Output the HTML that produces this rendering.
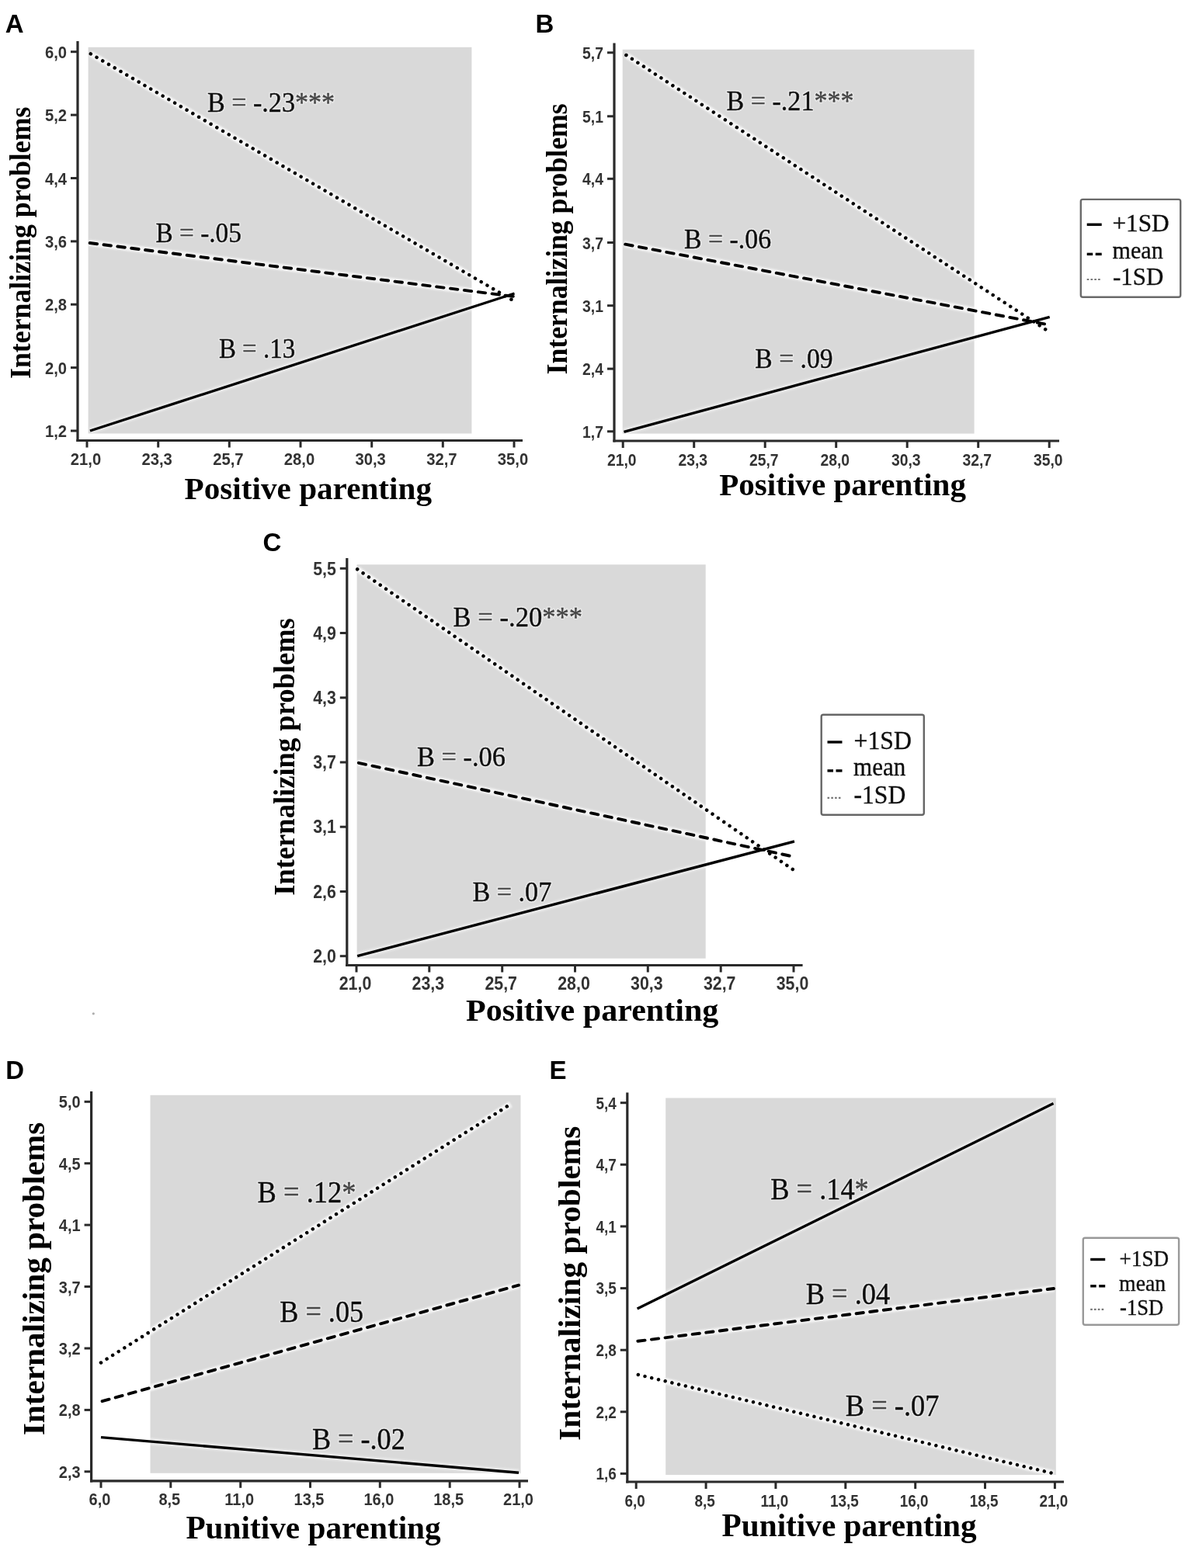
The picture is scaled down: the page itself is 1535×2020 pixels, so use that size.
<!DOCTYPE html>
<html><head><meta charset="utf-8"><title>Figure</title>
<style>html,body{margin:0;padding:0;background:#fff;width:1535px;height:2020px;overflow:hidden}svg{display:block}</style>
</head><body>
<svg width="1535" height="2020" viewBox="0 0 1535 2020">
<defs><filter id="halo" x="-5%" y="-5%" width="110%" height="110%"><feGaussianBlur stdDeviation="1.3"/></filter><filter id="soft" x="0" y="0" width="100%" height="100%" filterUnits="userSpaceOnUse"><feGaussianBlur stdDeviation="0.55"/></filter></defs>
<rect width="1535" height="2020" fill="#fff"/>
<circle cx="120.3" cy="1305.8" r="1.6" fill="#999" opacity="0.8"/>
<g filter="url(#soft)">
<rect x="113.6" y="60.8" width="493.8" height="497.7" fill="#d9d9d9"/>
<line x1="100.0" y1="53.0" x2="100.0" y2="569.1" stroke="#2a2a2a" stroke-width="3.2" />
<line x1="98.4" y1="567.5" x2="673.0" y2="567.5" stroke="#2a2a2a" stroke-width="3.2" />
<line x1="91.0" y1="66.7" x2="100.0" y2="66.7" stroke="#2a2a2a" stroke-width="3" />
<text transform="translate(86.00 74.75) scale(0.898 1)" font-family="'Liberation Sans', Arial, sans-serif" font-size="22.5" font-weight="bold" fill="#333" text-anchor="end">6,0</text>
<line x1="91.0" y1="148.1" x2="100.0" y2="148.1" stroke="#2a2a2a" stroke-width="3" />
<text transform="translate(86.00 156.14) scale(0.898 1)" font-family="'Liberation Sans', Arial, sans-serif" font-size="22.5" font-weight="bold" fill="#333" text-anchor="end">5,2</text>
<line x1="91.0" y1="229.5" x2="100.0" y2="229.5" stroke="#2a2a2a" stroke-width="3" />
<text transform="translate(86.00 237.52) scale(0.898 1)" font-family="'Liberation Sans', Arial, sans-serif" font-size="22.5" font-weight="bold" fill="#333" text-anchor="end">4,4</text>
<line x1="91.0" y1="310.9" x2="100.0" y2="310.9" stroke="#2a2a2a" stroke-width="3" />
<text transform="translate(86.00 318.91) scale(0.898 1)" font-family="'Liberation Sans', Arial, sans-serif" font-size="22.5" font-weight="bold" fill="#333" text-anchor="end">3,6</text>
<line x1="91.0" y1="392.2" x2="100.0" y2="392.2" stroke="#2a2a2a" stroke-width="3" />
<text transform="translate(86.00 400.29) scale(0.898 1)" font-family="'Liberation Sans', Arial, sans-serif" font-size="22.5" font-weight="bold" fill="#333" text-anchor="end">2,8</text>
<line x1="91.0" y1="473.6" x2="100.0" y2="473.6" stroke="#2a2a2a" stroke-width="3" />
<text transform="translate(86.00 481.67) scale(0.898 1)" font-family="'Liberation Sans', Arial, sans-serif" font-size="22.5" font-weight="bold" fill="#333" text-anchor="end">2,0</text>
<line x1="91.0" y1="555.0" x2="100.0" y2="555.0" stroke="#2a2a2a" stroke-width="3" />
<text transform="translate(86.00 563.05) scale(0.898 1)" font-family="'Liberation Sans', Arial, sans-serif" font-size="22.5" font-weight="bold" fill="#333" text-anchor="end">1,2</text>
<line x1="112.0" y1="567.5" x2="112.0" y2="576.5" stroke="#2a2a2a" stroke-width="3" />
<text transform="translate(110.50 599.00) scale(0.898 1)" font-family="'Liberation Sans', Arial, sans-serif" font-size="22.5" font-weight="bold" fill="#333" text-anchor="middle">21,0</text>
<line x1="203.7" y1="567.5" x2="203.7" y2="576.5" stroke="#2a2a2a" stroke-width="3" />
<text transform="translate(202.17 599.00) scale(0.898 1)" font-family="'Liberation Sans', Arial, sans-serif" font-size="22.5" font-weight="bold" fill="#333" text-anchor="middle">23,3</text>
<line x1="295.3" y1="567.5" x2="295.3" y2="576.5" stroke="#2a2a2a" stroke-width="3" />
<text transform="translate(293.83 599.00) scale(0.898 1)" font-family="'Liberation Sans', Arial, sans-serif" font-size="22.5" font-weight="bold" fill="#333" text-anchor="middle">25,7</text>
<line x1="387.0" y1="567.5" x2="387.0" y2="576.5" stroke="#2a2a2a" stroke-width="3" />
<text transform="translate(385.50 599.00) scale(0.898 1)" font-family="'Liberation Sans', Arial, sans-serif" font-size="22.5" font-weight="bold" fill="#333" text-anchor="middle">28,0</text>
<line x1="478.7" y1="567.5" x2="478.7" y2="576.5" stroke="#2a2a2a" stroke-width="3" />
<text transform="translate(477.17 599.00) scale(0.898 1)" font-family="'Liberation Sans', Arial, sans-serif" font-size="22.5" font-weight="bold" fill="#333" text-anchor="middle">30,3</text>
<line x1="570.3" y1="567.5" x2="570.3" y2="576.5" stroke="#2a2a2a" stroke-width="3" />
<text transform="translate(568.83 599.00) scale(0.898 1)" font-family="'Liberation Sans', Arial, sans-serif" font-size="22.5" font-weight="bold" fill="#333" text-anchor="middle">32,7</text>
<line x1="662.0" y1="567.5" x2="662.0" y2="576.5" stroke="#2a2a2a" stroke-width="3" />
<text transform="translate(660.50 599.00) scale(0.898 1)" font-family="'Liberation Sans', Arial, sans-serif" font-size="22.5" font-weight="bold" fill="#333" text-anchor="middle">35,0</text>
<g filter="url(#halo)">
<line x1="116.8" y1="69.4" x2="661.2" y2="387.4" stroke="#fff" stroke-width="8" stroke-opacity="0.8" stroke-linecap="butt"/>
<line x1="114.0" y1="312.8" x2="662.0" y2="382.0" stroke="#fff" stroke-width="8.5" stroke-opacity="0.7" stroke-linecap="butt"/>
<line x1="116.0" y1="555.0" x2="662.5" y2="378.0" stroke="#fff" stroke-width="9" stroke-opacity="0.45" stroke-linecap="butt"/>
</g>
<line x1="116.8" y1="69.4" x2="661.2" y2="387.4" stroke="#000" stroke-width="4.5" stroke-dasharray="0.01 8.95" stroke-linecap="round"/>
<line x1="114.0" y1="312.8" x2="662.0" y2="382.0" stroke="#000" stroke-width="3.9" stroke-dasharray="9.50 8.50" stroke-dashoffset="-1.65" stroke-linecap="round"/>
<line x1="116.0" y1="555.0" x2="662.5" y2="378.0" stroke="#000" stroke-width="3.4" stroke-linecap="butt"/>
<text x="266.90" y="143.6" font-family="'Liberation Serif', 'Times New Roman', serif" font-size="35.7" textLength="164.21" lengthAdjust="spacingAndGlyphs" fill="none" stroke="#fff" stroke-opacity="0.35" stroke-width="4" stroke-linejoin="round">B = -.23***</text>
<text x="266.90" y="143.6" font-family="'Liberation Serif', 'Times New Roman', serif" font-size="35.7" textLength="164.21" lengthAdjust="spacingAndGlyphs" fill="#111" stroke="#111" stroke-width="0.4">B <tspan fill="#4a4a4a" stroke="#4a4a4a">=</tspan> -.23<tspan fill="#444" stroke="#444">***</tspan></text>
<text x="200.50" y="311.5" font-family="'Liberation Serif', 'Times New Roman', serif" font-size="35.7" textLength="110.41" lengthAdjust="spacingAndGlyphs" fill="none" stroke="#fff" stroke-opacity="0.35" stroke-width="4" stroke-linejoin="round">B = -.05</text>
<text x="200.50" y="311.5" font-family="'Liberation Serif', 'Times New Roman', serif" font-size="35.7" textLength="110.41" lengthAdjust="spacingAndGlyphs" fill="#111" stroke="#111" stroke-width="0.4">B <tspan fill="#4a4a4a" stroke="#4a4a4a">=</tspan> -.05</text>
<text x="281.90" y="460.6" font-family="'Liberation Serif', 'Times New Roman', serif" font-size="35.7" textLength="98.22" lengthAdjust="spacingAndGlyphs" fill="none" stroke="#fff" stroke-opacity="0.35" stroke-width="4" stroke-linejoin="round">B = .13</text>
<text x="281.90" y="460.6" font-family="'Liberation Serif', 'Times New Roman', serif" font-size="35.7" textLength="98.22" lengthAdjust="spacingAndGlyphs" fill="#111" stroke="#111" stroke-width="0.4">B <tspan fill="#4a4a4a" stroke="#4a4a4a">=</tspan> .13</text>
<text x="6.8" y="41.6" font-family="'Liberation Sans', Arial, sans-serif" font-size="33" font-weight="bold" fill="#000" text-anchor="start" >A</text>
<text x="0" y="0" font-family="'Liberation Serif', 'Times New Roman', serif" font-size="37" font-weight="bold" fill="#000" text-anchor="middle" textLength="350.4" lengthAdjust="spacingAndGlyphs" transform="translate(38.8 312.8) rotate(-90)">Internalizing problems</text>
<text x="237.6" y="642.8" font-family="'Liberation Serif', 'Times New Roman', serif" font-size="40.5" font-weight="bold" fill="#000" textLength="318.4" lengthAdjust="spacingAndGlyphs">Positive parenting</text>
<rect x="801.7" y="63.8" width="452.9" height="494.8" fill="#d9d9d9"/>
<line x1="791.0" y1="55.4" x2="791.0" y2="569.6" stroke="#2a2a2a" stroke-width="3.2" />
<line x1="789.4" y1="568.0" x2="1364.0" y2="568.0" stroke="#2a2a2a" stroke-width="3.2" />
<line x1="782.0" y1="67.8" x2="791.0" y2="67.8" stroke="#2a2a2a" stroke-width="3" />
<text transform="translate(777.00 75.81) scale(0.86 1)" font-family="'Liberation Sans', Arial, sans-serif" font-size="22.5" font-weight="bold" fill="#333" text-anchor="end">5,7</text>
<line x1="782.0" y1="149.8" x2="791.0" y2="149.8" stroke="#2a2a2a" stroke-width="3" />
<text transform="translate(777.00 157.86) scale(0.86 1)" font-family="'Liberation Sans', Arial, sans-serif" font-size="22.5" font-weight="bold" fill="#333" text-anchor="end">5,1</text>
<line x1="782.0" y1="230.3" x2="791.0" y2="230.3" stroke="#2a2a2a" stroke-width="3" />
<text transform="translate(777.00 238.36) scale(0.86 1)" font-family="'Liberation Sans', Arial, sans-serif" font-size="22.5" font-weight="bold" fill="#333" text-anchor="end">4,4</text>
<line x1="782.0" y1="312.5" x2="791.0" y2="312.5" stroke="#2a2a2a" stroke-width="3" />
<text transform="translate(777.00 320.56) scale(0.86 1)" font-family="'Liberation Sans', Arial, sans-serif" font-size="22.5" font-weight="bold" fill="#333" text-anchor="end">3,7</text>
<line x1="782.0" y1="393.7" x2="791.0" y2="393.7" stroke="#2a2a2a" stroke-width="3" />
<text transform="translate(777.00 401.75) scale(0.86 1)" font-family="'Liberation Sans', Arial, sans-serif" font-size="22.5" font-weight="bold" fill="#333" text-anchor="end">3,1</text>
<line x1="782.0" y1="475.1" x2="791.0" y2="475.1" stroke="#2a2a2a" stroke-width="3" />
<text transform="translate(777.00 483.16) scale(0.86 1)" font-family="'Liberation Sans', Arial, sans-serif" font-size="22.5" font-weight="bold" fill="#333" text-anchor="end">2,4</text>
<line x1="782.0" y1="555.8" x2="791.0" y2="555.8" stroke="#2a2a2a" stroke-width="3" />
<text transform="translate(777.00 563.85) scale(0.86 1)" font-family="'Liberation Sans', Arial, sans-serif" font-size="22.5" font-weight="bold" fill="#333" text-anchor="end">1,7</text>
<line x1="802.2" y1="568.0" x2="802.2" y2="577.0" stroke="#2a2a2a" stroke-width="3" />
<text transform="translate(800.70 599.50) scale(0.86 1)" font-family="'Liberation Sans', Arial, sans-serif" font-size="22.5" font-weight="bold" fill="#333" text-anchor="middle">21,0</text>
<line x1="893.7" y1="568.0" x2="893.7" y2="577.0" stroke="#2a2a2a" stroke-width="3" />
<text transform="translate(892.20 599.50) scale(0.86 1)" font-family="'Liberation Sans', Arial, sans-serif" font-size="22.5" font-weight="bold" fill="#333" text-anchor="middle">23,3</text>
<line x1="985.2" y1="568.0" x2="985.2" y2="577.0" stroke="#2a2a2a" stroke-width="3" />
<text transform="translate(983.70 599.50) scale(0.86 1)" font-family="'Liberation Sans', Arial, sans-serif" font-size="22.5" font-weight="bold" fill="#333" text-anchor="middle">25,7</text>
<line x1="1076.7" y1="568.0" x2="1076.7" y2="577.0" stroke="#2a2a2a" stroke-width="3" />
<text transform="translate(1075.20 599.50) scale(0.86 1)" font-family="'Liberation Sans', Arial, sans-serif" font-size="22.5" font-weight="bold" fill="#333" text-anchor="middle">28,0</text>
<line x1="1168.2" y1="568.0" x2="1168.2" y2="577.0" stroke="#2a2a2a" stroke-width="3" />
<text transform="translate(1166.70 599.50) scale(0.86 1)" font-family="'Liberation Sans', Arial, sans-serif" font-size="22.5" font-weight="bold" fill="#333" text-anchor="middle">30,3</text>
<line x1="1259.7" y1="568.0" x2="1259.7" y2="577.0" stroke="#2a2a2a" stroke-width="3" />
<text transform="translate(1258.20 599.50) scale(0.86 1)" font-family="'Liberation Sans', Arial, sans-serif" font-size="22.5" font-weight="bold" fill="#333" text-anchor="middle">32,7</text>
<line x1="1351.2" y1="568.0" x2="1351.2" y2="577.0" stroke="#2a2a2a" stroke-width="3" />
<text transform="translate(1349.70 599.50) scale(0.86 1)" font-family="'Liberation Sans', Arial, sans-serif" font-size="22.5" font-weight="bold" fill="#333" text-anchor="middle">35,0</text>
<g filter="url(#halo)">
<line x1="806.4" y1="71.0" x2="1350.4" y2="427.0" stroke="#fff" stroke-width="8" stroke-opacity="0.8" stroke-linecap="butt"/>
<line x1="803.6" y1="314.4" x2="1345.8" y2="417.5" stroke="#fff" stroke-width="8.5" stroke-opacity="0.7" stroke-linecap="butt"/>
<line x1="803.5" y1="556.3" x2="1351.7" y2="408.3" stroke="#fff" stroke-width="9" stroke-opacity="0.45" stroke-linecap="butt"/>
</g>
<line x1="806.4" y1="71.0" x2="1350.4" y2="427.0" stroke="#000" stroke-width="4.5" stroke-dasharray="0.01 8.95" stroke-linecap="round"/>
<line x1="803.6" y1="314.4" x2="1345.8" y2="417.5" stroke="#000" stroke-width="3.9" stroke-dasharray="9.50 8.50" stroke-dashoffset="-1.65" stroke-linecap="round"/>
<line x1="803.5" y1="556.3" x2="1351.7" y2="408.3" stroke="#000" stroke-width="3.4" stroke-linecap="butt"/>
<text x="935.50" y="142.2" font-family="'Liberation Serif', 'Times New Roman', serif" font-size="35.7" textLength="164.01" lengthAdjust="spacingAndGlyphs" fill="none" stroke="#fff" stroke-opacity="0.35" stroke-width="4" stroke-linejoin="round">B = -.21***</text>
<text x="935.50" y="142.2" font-family="'Liberation Serif', 'Times New Roman', serif" font-size="35.7" textLength="164.01" lengthAdjust="spacingAndGlyphs" fill="#111" stroke="#111" stroke-width="0.4">B <tspan fill="#4a4a4a" stroke="#4a4a4a">=</tspan> -.21<tspan fill="#444" stroke="#444">***</tspan></text>
<text x="880.90" y="320.1" font-family="'Liberation Serif', 'Times New Roman', serif" font-size="35.7" textLength="112.21" lengthAdjust="spacingAndGlyphs" fill="none" stroke="#fff" stroke-opacity="0.35" stroke-width="4" stroke-linejoin="round">B = -.06</text>
<text x="880.90" y="320.1" font-family="'Liberation Serif', 'Times New Roman', serif" font-size="35.7" textLength="112.21" lengthAdjust="spacingAndGlyphs" fill="#111" stroke="#111" stroke-width="0.4">B <tspan fill="#4a4a4a" stroke="#4a4a4a">=</tspan> -.06</text>
<text x="972.30" y="473.9" font-family="'Liberation Serif', 'Times New Roman', serif" font-size="35.7" textLength="100.32" lengthAdjust="spacingAndGlyphs" fill="none" stroke="#fff" stroke-opacity="0.35" stroke-width="4" stroke-linejoin="round">B = .09</text>
<text x="972.30" y="473.9" font-family="'Liberation Serif', 'Times New Roman', serif" font-size="35.7" textLength="100.32" lengthAdjust="spacingAndGlyphs" fill="#111" stroke="#111" stroke-width="0.4">B <tspan fill="#4a4a4a" stroke="#4a4a4a">=</tspan> .09</text>
<text x="689.5" y="42.0" font-family="'Liberation Sans', Arial, sans-serif" font-size="33" font-weight="bold" fill="#000" text-anchor="start" >B</text>
<text x="0" y="0" font-family="'Liberation Serif', 'Times New Roman', serif" font-size="37" font-weight="bold" fill="#000" text-anchor="middle" textLength="349" lengthAdjust="spacingAndGlyphs" transform="translate(730 307.9) rotate(-90)">Internalizing problems</text>
<text x="926.2" y="638.4" font-family="'Liberation Serif', 'Times New Roman', serif" font-size="40.5" font-weight="bold" fill="#000" textLength="317.8" lengthAdjust="spacingAndGlyphs">Positive parenting</text>
<rect x="1391.8" y="256.9" width="128.40000000000018" height="125.79999999999998" rx="2.5" fill="#fff" stroke="#6a6a6a" stroke-width="2.4"/>
<line x1="1399.7" y1="289.3" x2="1418.7" y2="289.3" stroke="#000" stroke-width="3.4" />
<text x="1432.50" y="297.8" font-family="'Liberation Serif', 'Times New Roman', serif" font-size="30.5" fill="#111" stroke="#111" stroke-width="0.35" textLength="73.19" lengthAdjust="spacingAndGlyphs">+1SD</text>
<line x1="1399.7" y1="327.4" x2="1407.2" y2="327.4" stroke="#000" stroke-width="3.4" />
<line x1="1410.7" y1="327.4" x2="1418.7" y2="327.4" stroke="#000" stroke-width="3.4" />
<text x="1432.50" y="333.4" font-family="'Liberation Serif', 'Times New Roman', serif" font-size="30.5" fill="#111" stroke="#111" stroke-width="0.35" textLength="65.20" lengthAdjust="spacingAndGlyphs">mean</text>
<line x1="1399.7" y1="360.0" x2="1418.7" y2="360.0" stroke="#777" stroke-width="2.2" stroke-dasharray="2.6 2.2"/>
<text x="1433.00" y="367.3" font-family="'Liberation Serif', 'Times New Roman', serif" font-size="30.5" fill="#111" stroke="#111" stroke-width="0.35" textLength="65.20" lengthAdjust="spacingAndGlyphs">-1SD</text>
<rect x="459.6" y="727.3" width="449.1" height="507.4" fill="#d9d9d9"/>
<line x1="446.8" y1="718.9" x2="446.8" y2="1245.1" stroke="#2a2a2a" stroke-width="3.2" />
<line x1="445.2" y1="1243.5" x2="1033.6" y2="1243.5" stroke="#2a2a2a" stroke-width="3.2" />
<line x1="437.8" y1="732.3" x2="446.8" y2="732.3" stroke="#2a2a2a" stroke-width="3" />
<text transform="translate(432.80 740.53) scale(0.928 1)" font-family="'Liberation Sans', Arial, sans-serif" font-size="23" font-weight="bold" fill="#333" text-anchor="end">5,5</text>
<line x1="437.8" y1="815.5" x2="446.8" y2="815.5" stroke="#2a2a2a" stroke-width="3" />
<text transform="translate(432.80 823.77) scale(0.928 1)" font-family="'Liberation Sans', Arial, sans-serif" font-size="23" font-weight="bold" fill="#333" text-anchor="end">4,9</text>
<line x1="437.8" y1="898.8" x2="446.8" y2="898.8" stroke="#2a2a2a" stroke-width="3" />
<text transform="translate(432.80 907.00) scale(0.928 1)" font-family="'Liberation Sans', Arial, sans-serif" font-size="23" font-weight="bold" fill="#333" text-anchor="end">4,3</text>
<line x1="437.8" y1="982.0" x2="446.8" y2="982.0" stroke="#2a2a2a" stroke-width="3" />
<text transform="translate(432.80 990.23) scale(0.928 1)" font-family="'Liberation Sans', Arial, sans-serif" font-size="23" font-weight="bold" fill="#333" text-anchor="end">3,7</text>
<line x1="437.8" y1="1065.2" x2="446.8" y2="1065.2" stroke="#2a2a2a" stroke-width="3" />
<text transform="translate(432.80 1073.47) scale(0.928 1)" font-family="'Liberation Sans', Arial, sans-serif" font-size="23" font-weight="bold" fill="#333" text-anchor="end">3,1</text>
<line x1="437.8" y1="1148.5" x2="446.8" y2="1148.5" stroke="#2a2a2a" stroke-width="3" />
<text transform="translate(432.80 1156.70) scale(0.928 1)" font-family="'Liberation Sans', Arial, sans-serif" font-size="23" font-weight="bold" fill="#333" text-anchor="end">2,6</text>
<line x1="437.8" y1="1231.7" x2="446.8" y2="1231.7" stroke="#2a2a2a" stroke-width="3" />
<text transform="translate(432.80 1239.93) scale(0.928 1)" font-family="'Liberation Sans', Arial, sans-serif" font-size="23" font-weight="bold" fill="#333" text-anchor="end">2,0</text>
<line x1="459.0" y1="1243.5" x2="459.0" y2="1252.5" stroke="#2a2a2a" stroke-width="3" />
<text transform="translate(457.50 1275.00) scale(0.928 1)" font-family="'Liberation Sans', Arial, sans-serif" font-size="23" font-weight="bold" fill="#333" text-anchor="middle">21,0</text>
<line x1="552.8" y1="1243.5" x2="552.8" y2="1252.5" stroke="#2a2a2a" stroke-width="3" />
<text transform="translate(551.33 1275.00) scale(0.928 1)" font-family="'Liberation Sans', Arial, sans-serif" font-size="23" font-weight="bold" fill="#333" text-anchor="middle">23,3</text>
<line x1="646.7" y1="1243.5" x2="646.7" y2="1252.5" stroke="#2a2a2a" stroke-width="3" />
<text transform="translate(645.17 1275.00) scale(0.928 1)" font-family="'Liberation Sans', Arial, sans-serif" font-size="23" font-weight="bold" fill="#333" text-anchor="middle">25,7</text>
<line x1="740.5" y1="1243.5" x2="740.5" y2="1252.5" stroke="#2a2a2a" stroke-width="3" />
<text transform="translate(739.00 1275.00) scale(0.928 1)" font-family="'Liberation Sans', Arial, sans-serif" font-size="23" font-weight="bold" fill="#333" text-anchor="middle">28,0</text>
<line x1="834.3" y1="1243.5" x2="834.3" y2="1252.5" stroke="#2a2a2a" stroke-width="3" />
<text transform="translate(832.83 1275.00) scale(0.928 1)" font-family="'Liberation Sans', Arial, sans-serif" font-size="23" font-weight="bold" fill="#333" text-anchor="middle">30,3</text>
<line x1="928.2" y1="1243.5" x2="928.2" y2="1252.5" stroke="#2a2a2a" stroke-width="3" />
<text transform="translate(926.67 1275.00) scale(0.928 1)" font-family="'Liberation Sans', Arial, sans-serif" font-size="23" font-weight="bold" fill="#333" text-anchor="middle">32,7</text>
<line x1="1022.0" y1="1243.5" x2="1022.0" y2="1252.5" stroke="#2a2a2a" stroke-width="3" />
<text transform="translate(1020.50 1275.00) scale(0.928 1)" font-family="'Liberation Sans', Arial, sans-serif" font-size="23" font-weight="bold" fill="#333" text-anchor="middle">35,0</text>
<g filter="url(#halo)">
<line x1="460.2" y1="733.3" x2="1023.0" y2="1121.5" stroke="#fff" stroke-width="8" stroke-opacity="0.8" stroke-linecap="butt"/>
<line x1="460.2" y1="982.5" x2="1023.0" y2="1103.9" stroke="#fff" stroke-width="8.5" stroke-opacity="0.7" stroke-linecap="butt"/>
<line x1="460.2" y1="1231.7" x2="1023.0" y2="1083.9" stroke="#fff" stroke-width="9" stroke-opacity="0.45" stroke-linecap="butt"/>
</g>
<line x1="460.2" y1="733.3" x2="1023.0" y2="1121.5" stroke="#000" stroke-width="4.5" stroke-dasharray="0.01 8.95" stroke-linecap="round"/>
<line x1="460.2" y1="982.5" x2="1023.0" y2="1103.9" stroke="#000" stroke-width="3.9" stroke-dasharray="9.50 8.50" stroke-dashoffset="-1.65" stroke-linecap="round"/>
<line x1="460.2" y1="1231.7" x2="1023.0" y2="1083.9" stroke="#000" stroke-width="3.4" stroke-linecap="butt"/>
<text x="583.60" y="806.6" font-family="'Liberation Serif', 'Times New Roman', serif" font-size="36.2" textLength="166.51" lengthAdjust="spacingAndGlyphs" fill="none" stroke="#fff" stroke-opacity="0.35" stroke-width="4" stroke-linejoin="round">B = -.20***</text>
<text x="583.60" y="806.6" font-family="'Liberation Serif', 'Times New Roman', serif" font-size="36.2" textLength="166.51" lengthAdjust="spacingAndGlyphs" fill="#111" stroke="#111" stroke-width="0.4">B <tspan fill="#4a4a4a" stroke="#4a4a4a">=</tspan> -.20<tspan fill="#444" stroke="#444">***</tspan></text>
<text x="536.90" y="986.9" font-family="'Liberation Serif', 'Times New Roman', serif" font-size="36.2" textLength="114.01" lengthAdjust="spacingAndGlyphs" fill="none" stroke="#fff" stroke-opacity="0.35" stroke-width="4" stroke-linejoin="round">B = -.06</text>
<text x="536.90" y="986.9" font-family="'Liberation Serif', 'Times New Roman', serif" font-size="36.2" textLength="114.01" lengthAdjust="spacingAndGlyphs" fill="#111" stroke="#111" stroke-width="0.4">B <tspan fill="#4a4a4a" stroke="#4a4a4a">=</tspan> -.06</text>
<text x="608.50" y="1161.3" font-family="'Liberation Serif', 'Times New Roman', serif" font-size="36.2" textLength="101.71" lengthAdjust="spacingAndGlyphs" fill="none" stroke="#fff" stroke-opacity="0.35" stroke-width="4" stroke-linejoin="round">B = .07</text>
<text x="608.50" y="1161.3" font-family="'Liberation Serif', 'Times New Roman', serif" font-size="36.2" textLength="101.71" lengthAdjust="spacingAndGlyphs" fill="#111" stroke="#111" stroke-width="0.4">B <tspan fill="#4a4a4a" stroke="#4a4a4a">=</tspan> .07</text>
<text x="338.6" y="710.2" font-family="'Liberation Sans', Arial, sans-serif" font-size="33" font-weight="bold" fill="#000" text-anchor="start" >C</text>
<text x="0" y="0" font-family="'Liberation Serif', 'Times New Roman', serif" font-size="37" font-weight="bold" fill="#000" text-anchor="middle" textLength="357.7" lengthAdjust="spacingAndGlyphs" transform="translate(379.2 975) rotate(-90)">Internalizing problems</text>
<text x="600" y="1314.5" font-family="'Liberation Serif', 'Times New Roman', serif" font-size="40.5" font-weight="bold" fill="#000" textLength="325.4" lengthAdjust="spacingAndGlyphs">Positive parenting</text>
<rect x="1057.7" y="920.7" width="132.1" height="129.1" rx="2.5" fill="#fff" stroke="#666" stroke-width="2.4"/>
<line x1="1065.5" y1="956.0" x2="1084.5" y2="956.0" stroke="#000" stroke-width="3.4" />
<text x="1099.50" y="964.5" font-family="'Liberation Serif', 'Times New Roman', serif" font-size="33" fill="#111" stroke="#111" stroke-width="0.35" textLength="74.30" lengthAdjust="spacingAndGlyphs">+1SD</text>
<line x1="1065.5" y1="992.9" x2="1073.0" y2="992.9" stroke="#000" stroke-width="3.4" />
<line x1="1076.5" y1="992.9" x2="1084.5" y2="992.9" stroke="#000" stroke-width="3.4" />
<text x="1099.00" y="998.9" font-family="'Liberation Serif', 'Times New Roman', serif" font-size="33" fill="#111" stroke="#111" stroke-width="0.35" textLength="67.21" lengthAdjust="spacingAndGlyphs">mean</text>
<line x1="1065.5" y1="1027.9" x2="1084.5" y2="1027.9" stroke="#777" stroke-width="2.2" stroke-dasharray="2.6 2.2"/>
<text x="1099.50" y="1035.2" font-family="'Liberation Serif', 'Times New Roman', serif" font-size="33" fill="#111" stroke="#111" stroke-width="0.35" textLength="66.72" lengthAdjust="spacingAndGlyphs">-1SD</text>
<rect x="193.5" y="1410.8" width="477.0" height="487.0" fill="#d9d9d9"/>
<line x1="117.6" y1="1406.0" x2="117.6" y2="1909.4" stroke="#2a2a2a" stroke-width="3.2" />
<line x1="116.0" y1="1907.8" x2="680.0" y2="1907.8" stroke="#2a2a2a" stroke-width="3.2" />
<line x1="108.6" y1="1419.3" x2="117.6" y2="1419.3" stroke="#2a2a2a" stroke-width="3" />
<text transform="translate(103.60 1427.36) scale(0.889 1)" font-family="'Liberation Sans', Arial, sans-serif" font-size="22.5" font-weight="bold" fill="#333" text-anchor="end">5,0</text>
<line x1="108.6" y1="1498.7" x2="117.6" y2="1498.7" stroke="#2a2a2a" stroke-width="3" />
<text transform="translate(103.60 1506.77) scale(0.889 1)" font-family="'Liberation Sans', Arial, sans-serif" font-size="22.5" font-weight="bold" fill="#333" text-anchor="end">4,5</text>
<line x1="108.6" y1="1578.1" x2="117.6" y2="1578.1" stroke="#2a2a2a" stroke-width="3" />
<text transform="translate(103.60 1586.19) scale(0.889 1)" font-family="'Liberation Sans', Arial, sans-serif" font-size="22.5" font-weight="bold" fill="#333" text-anchor="end">4,1</text>
<line x1="108.6" y1="1657.5" x2="117.6" y2="1657.5" stroke="#2a2a2a" stroke-width="3" />
<text transform="translate(103.60 1665.61) scale(0.889 1)" font-family="'Liberation Sans', Arial, sans-serif" font-size="22.5" font-weight="bold" fill="#333" text-anchor="end">3,7</text>
<line x1="108.6" y1="1737.0" x2="117.6" y2="1737.0" stroke="#2a2a2a" stroke-width="3" />
<text transform="translate(103.60 1745.02) scale(0.889 1)" font-family="'Liberation Sans', Arial, sans-serif" font-size="22.5" font-weight="bold" fill="#333" text-anchor="end">3,2</text>
<line x1="108.6" y1="1816.4" x2="117.6" y2="1816.4" stroke="#2a2a2a" stroke-width="3" />
<text transform="translate(103.60 1824.44) scale(0.889 1)" font-family="'Liberation Sans', Arial, sans-serif" font-size="22.5" font-weight="bold" fill="#333" text-anchor="end">2,8</text>
<line x1="108.6" y1="1895.8" x2="117.6" y2="1895.8" stroke="#2a2a2a" stroke-width="3" />
<text transform="translate(103.60 1903.86) scale(0.889 1)" font-family="'Liberation Sans', Arial, sans-serif" font-size="22.5" font-weight="bold" fill="#333" text-anchor="end">2,3</text>
<line x1="130.0" y1="1907.8" x2="130.0" y2="1916.8" stroke="#2a2a2a" stroke-width="3" />
<text transform="translate(128.50 1939.30) scale(0.889 1)" font-family="'Liberation Sans', Arial, sans-serif" font-size="22.5" font-weight="bold" fill="#333" text-anchor="middle">6,0</text>
<line x1="219.8" y1="1907.8" x2="219.8" y2="1916.8" stroke="#2a2a2a" stroke-width="3" />
<text transform="translate(218.33 1939.30) scale(0.889 1)" font-family="'Liberation Sans', Arial, sans-serif" font-size="22.5" font-weight="bold" fill="#333" text-anchor="middle">8,5</text>
<line x1="309.7" y1="1907.8" x2="309.7" y2="1916.8" stroke="#2a2a2a" stroke-width="3" />
<text transform="translate(308.17 1939.30) scale(0.889 1)" font-family="'Liberation Sans', Arial, sans-serif" font-size="22.5" font-weight="bold" fill="#333" text-anchor="middle">11,0</text>
<line x1="399.5" y1="1907.8" x2="399.5" y2="1916.8" stroke="#2a2a2a" stroke-width="3" />
<text transform="translate(398.00 1939.30) scale(0.889 1)" font-family="'Liberation Sans', Arial, sans-serif" font-size="22.5" font-weight="bold" fill="#333" text-anchor="middle">13,5</text>
<line x1="489.3" y1="1907.8" x2="489.3" y2="1916.8" stroke="#2a2a2a" stroke-width="3" />
<text transform="translate(487.83 1939.30) scale(0.889 1)" font-family="'Liberation Sans', Arial, sans-serif" font-size="22.5" font-weight="bold" fill="#333" text-anchor="middle">16,0</text>
<line x1="579.2" y1="1907.8" x2="579.2" y2="1916.8" stroke="#2a2a2a" stroke-width="3" />
<text transform="translate(577.67 1939.30) scale(0.889 1)" font-family="'Liberation Sans', Arial, sans-serif" font-size="22.5" font-weight="bold" fill="#333" text-anchor="middle">18,5</text>
<line x1="669.0" y1="1907.8" x2="669.0" y2="1916.8" stroke="#2a2a2a" stroke-width="3" />
<text transform="translate(667.50 1939.30) scale(0.889 1)" font-family="'Liberation Sans', Arial, sans-serif" font-size="22.5" font-weight="bold" fill="#333" text-anchor="middle">21,0</text>
<g filter="url(#halo)">
<line x1="130.0" y1="1755.5" x2="657.5" y2="1422.5" stroke="#fff" stroke-width="8" stroke-opacity="0.8" stroke-linecap="butt"/>
<line x1="130.0" y1="1805.6" x2="668.0" y2="1655.7" stroke="#fff" stroke-width="8.5" stroke-opacity="0.7" stroke-linecap="butt"/>
<line x1="130.0" y1="1851.6" x2="668.0" y2="1897.2" stroke="#fff" stroke-width="9" stroke-opacity="0.45" stroke-linecap="butt"/>
</g>
<line x1="130.0" y1="1755.5" x2="657.5" y2="1422.5" stroke="#000" stroke-width="4.5" stroke-dasharray="0.01 8.95" stroke-linecap="round"/>
<line x1="130.0" y1="1805.6" x2="668.0" y2="1655.7" stroke="#000" stroke-width="3.9" stroke-dasharray="9.30 8.42" stroke-dashoffset="-1.65" stroke-linecap="round"/>
<line x1="130.0" y1="1851.6" x2="668.0" y2="1897.2" stroke="#000" stroke-width="3.4" stroke-linecap="butt"/>
<text x="331.50" y="1548.5" font-family="'Liberation Serif', 'Times New Roman', serif" font-size="39.4" textLength="127.10" lengthAdjust="spacingAndGlyphs" fill="none" stroke="#fff" stroke-opacity="0.35" stroke-width="4" stroke-linejoin="round">B = .12*</text>
<text x="331.50" y="1548.5" font-family="'Liberation Serif', 'Times New Roman', serif" font-size="39.4" textLength="127.10" lengthAdjust="spacingAndGlyphs" fill="#111" stroke="#111" stroke-width="0.4">B <tspan fill="#4a4a4a" stroke="#4a4a4a">=</tspan> .12<tspan fill="#444" stroke="#444">*</tspan></text>
<text x="360.20" y="1703.4" font-family="'Liberation Serif', 'Times New Roman', serif" font-size="39.4" textLength="107.90" lengthAdjust="spacingAndGlyphs" fill="none" stroke="#fff" stroke-opacity="0.35" stroke-width="4" stroke-linejoin="round">B = .05</text>
<text x="360.20" y="1703.4" font-family="'Liberation Serif', 'Times New Roman', serif" font-size="39.4" textLength="107.90" lengthAdjust="spacingAndGlyphs" fill="#111" stroke="#111" stroke-width="0.4">B <tspan fill="#4a4a4a" stroke="#4a4a4a">=</tspan> .05</text>
<text x="401.90" y="1867.4" font-family="'Liberation Serif', 'Times New Roman', serif" font-size="39.4" textLength="119.92" lengthAdjust="spacingAndGlyphs" fill="none" stroke="#fff" stroke-opacity="0.35" stroke-width="4" stroke-linejoin="round">B = -.02</text>
<text x="401.90" y="1867.4" font-family="'Liberation Serif', 'Times New Roman', serif" font-size="39.4" textLength="119.92" lengthAdjust="spacingAndGlyphs" fill="#111" stroke="#111" stroke-width="0.4">B <tspan fill="#4a4a4a" stroke="#4a4a4a">=</tspan> -.02</text>
<text x="7.2" y="1389.6" font-family="'Liberation Sans', Arial, sans-serif" font-size="33" font-weight="bold" fill="#000" text-anchor="start" >D</text>
<text x="0" y="0" font-family="'Liberation Serif', 'Times New Roman', serif" font-size="39.5" font-weight="bold" fill="#000" text-anchor="middle" textLength="403.5" lengthAdjust="spacingAndGlyphs" transform="translate(57.3 1647.5) rotate(-90)">Internalizing problems</text>
<text x="239.4" y="1981.8" font-family="'Liberation Serif', 'Times New Roman', serif" font-size="41.5" font-weight="bold" fill="#000" textLength="328.3" lengthAdjust="spacingAndGlyphs">Punitive parenting</text>
<rect x="857.2" y="1414.5" width="502.6" height="485.5" fill="#d9d9d9"/>
<line x1="807.8" y1="1407.5" x2="807.8" y2="1910.6" stroke="#2a2a2a" stroke-width="3.2" />
<line x1="806.2" y1="1909.0" x2="1370.0" y2="1909.0" stroke="#2a2a2a" stroke-width="3.2" />
<line x1="798.8" y1="1420.7" x2="807.8" y2="1420.7" stroke="#2a2a2a" stroke-width="3" />
<text transform="translate(793.80 1428.58) scale(0.859 1)" font-family="'Liberation Sans', Arial, sans-serif" font-size="22" font-weight="bold" fill="#333" text-anchor="end">5,4</text>
<line x1="798.8" y1="1500.3" x2="807.8" y2="1500.3" stroke="#2a2a2a" stroke-width="3" />
<text transform="translate(793.80 1508.19) scale(0.859 1)" font-family="'Liberation Sans', Arial, sans-serif" font-size="22" font-weight="bold" fill="#333" text-anchor="end">4,7</text>
<line x1="798.8" y1="1579.9" x2="807.8" y2="1579.9" stroke="#2a2a2a" stroke-width="3" />
<text transform="translate(793.80 1587.81) scale(0.859 1)" font-family="'Liberation Sans', Arial, sans-serif" font-size="22" font-weight="bold" fill="#333" text-anchor="end">4,1</text>
<line x1="798.8" y1="1659.6" x2="807.8" y2="1659.6" stroke="#2a2a2a" stroke-width="3" />
<text transform="translate(793.80 1667.43) scale(0.859 1)" font-family="'Liberation Sans', Arial, sans-serif" font-size="22" font-weight="bold" fill="#333" text-anchor="end">3,5</text>
<line x1="798.8" y1="1739.2" x2="807.8" y2="1739.2" stroke="#2a2a2a" stroke-width="3" />
<text transform="translate(793.80 1747.04) scale(0.859 1)" font-family="'Liberation Sans', Arial, sans-serif" font-size="22" font-weight="bold" fill="#333" text-anchor="end">2,8</text>
<line x1="798.8" y1="1818.8" x2="807.8" y2="1818.8" stroke="#2a2a2a" stroke-width="3" />
<text transform="translate(793.80 1826.66) scale(0.859 1)" font-family="'Liberation Sans', Arial, sans-serif" font-size="22" font-weight="bold" fill="#333" text-anchor="end">2,2</text>
<line x1="798.8" y1="1898.4" x2="807.8" y2="1898.4" stroke="#2a2a2a" stroke-width="3" />
<text transform="translate(793.80 1906.28) scale(0.859 1)" font-family="'Liberation Sans', Arial, sans-serif" font-size="22" font-weight="bold" fill="#333" text-anchor="end">1,6</text>
<line x1="819.2" y1="1909.0" x2="819.2" y2="1918.0" stroke="#2a2a2a" stroke-width="3" />
<text transform="translate(817.70 1940.50) scale(0.859 1)" font-family="'Liberation Sans', Arial, sans-serif" font-size="22" font-weight="bold" fill="#333" text-anchor="middle">6,0</text>
<line x1="909.1" y1="1909.0" x2="909.1" y2="1918.0" stroke="#2a2a2a" stroke-width="3" />
<text transform="translate(907.57 1940.50) scale(0.859 1)" font-family="'Liberation Sans', Arial, sans-serif" font-size="22" font-weight="bold" fill="#333" text-anchor="middle">8,5</text>
<line x1="998.9" y1="1909.0" x2="998.9" y2="1918.0" stroke="#2a2a2a" stroke-width="3" />
<text transform="translate(997.43 1940.50) scale(0.859 1)" font-family="'Liberation Sans', Arial, sans-serif" font-size="22" font-weight="bold" fill="#333" text-anchor="middle">11,0</text>
<line x1="1088.8" y1="1909.0" x2="1088.8" y2="1918.0" stroke="#2a2a2a" stroke-width="3" />
<text transform="translate(1087.30 1940.50) scale(0.859 1)" font-family="'Liberation Sans', Arial, sans-serif" font-size="22" font-weight="bold" fill="#333" text-anchor="middle">13,5</text>
<line x1="1178.7" y1="1909.0" x2="1178.7" y2="1918.0" stroke="#2a2a2a" stroke-width="3" />
<text transform="translate(1177.17 1940.50) scale(0.859 1)" font-family="'Liberation Sans', Arial, sans-serif" font-size="22" font-weight="bold" fill="#333" text-anchor="middle">16,0</text>
<line x1="1268.5" y1="1909.0" x2="1268.5" y2="1918.0" stroke="#2a2a2a" stroke-width="3" />
<text transform="translate(1267.03 1940.50) scale(0.859 1)" font-family="'Liberation Sans', Arial, sans-serif" font-size="22" font-weight="bold" fill="#333" text-anchor="middle">18,5</text>
<line x1="1358.4" y1="1909.0" x2="1358.4" y2="1918.0" stroke="#2a2a2a" stroke-width="3" />
<text transform="translate(1356.90 1940.50) scale(0.859 1)" font-family="'Liberation Sans', Arial, sans-serif" font-size="22" font-weight="bold" fill="#333" text-anchor="middle">21,0</text>
<g filter="url(#halo)">
<line x1="820.6" y1="1685.9" x2="1356.5" y2="1421.6" stroke="#fff" stroke-width="9" stroke-opacity="0.45" stroke-linecap="butt"/>
<line x1="819.7" y1="1728.0" x2="1357.0" y2="1660.0" stroke="#fff" stroke-width="8.5" stroke-opacity="0.7" stroke-linecap="butt"/>
<line x1="821.8" y1="1771.0" x2="1357.0" y2="1898.3" stroke="#fff" stroke-width="8" stroke-opacity="0.8" stroke-linecap="butt"/>
</g>
<line x1="820.6" y1="1685.9" x2="1356.5" y2="1421.6" stroke="#000" stroke-width="3.4" stroke-linecap="butt"/>
<line x1="819.7" y1="1728.0" x2="1357.0" y2="1660.0" stroke="#000" stroke-width="3.9" stroke-dasharray="9.30 8.42" stroke-dashoffset="-1.65" stroke-linecap="round"/>
<line x1="821.8" y1="1771.0" x2="1357.0" y2="1898.3" stroke="#000" stroke-width="4.5" stroke-dasharray="0.01 8.95" stroke-linecap="round"/>
<text x="992.20" y="1544.7" font-family="'Liberation Serif', 'Times New Roman', serif" font-size="39.9" textLength="126.59" lengthAdjust="spacingAndGlyphs" fill="none" stroke="#fff" stroke-opacity="0.35" stroke-width="4" stroke-linejoin="round">B = .14*</text>
<text x="992.20" y="1544.7" font-family="'Liberation Serif', 'Times New Roman', serif" font-size="39.9" textLength="126.59" lengthAdjust="spacingAndGlyphs" fill="#111" stroke="#111" stroke-width="0.4">B <tspan fill="#4a4a4a" stroke="#4a4a4a">=</tspan> .14<tspan fill="#444" stroke="#444">*</tspan></text>
<text x="1037.70" y="1680.1" font-family="'Liberation Serif', 'Times New Roman', serif" font-size="39.9" textLength="108.39" lengthAdjust="spacingAndGlyphs" fill="none" stroke="#fff" stroke-opacity="0.35" stroke-width="4" stroke-linejoin="round">B = .04</text>
<text x="1037.70" y="1680.1" font-family="'Liberation Serif', 'Times New Roman', serif" font-size="39.9" textLength="108.39" lengthAdjust="spacingAndGlyphs" fill="#111" stroke="#111" stroke-width="0.4">B <tspan fill="#4a4a4a" stroke="#4a4a4a">=</tspan> .04</text>
<text x="1088.70" y="1824.2" font-family="'Liberation Serif', 'Times New Roman', serif" font-size="39.9" textLength="120.78" lengthAdjust="spacingAndGlyphs" fill="none" stroke="#fff" stroke-opacity="0.35" stroke-width="4" stroke-linejoin="round">B = -.07</text>
<text x="1088.70" y="1824.2" font-family="'Liberation Serif', 'Times New Roman', serif" font-size="39.9" textLength="120.78" lengthAdjust="spacingAndGlyphs" fill="#111" stroke="#111" stroke-width="0.4">B <tspan fill="#4a4a4a" stroke="#4a4a4a">=</tspan> -.07</text>
<text x="707.5" y="1389.6" font-family="'Liberation Sans', Arial, sans-serif" font-size="33" font-weight="bold" fill="#000" text-anchor="start" >E</text>
<text x="0" y="0" font-family="'Liberation Serif', 'Times New Roman', serif" font-size="39.5" font-weight="bold" fill="#000" text-anchor="middle" textLength="405.4" lengthAdjust="spacingAndGlyphs" transform="translate(746.5 1653.3) rotate(-90)">Internalizing problems</text>
<text x="929.6" y="1979.3" font-family="'Liberation Serif', 'Times New Roman', serif" font-size="41.5" font-weight="bold" fill="#000" textLength="328.1" lengthAdjust="spacingAndGlyphs">Punitive parenting</text>
<rect x="1394.8" y="1594.7" width="123.30000000000004" height="112.1" rx="2.5" fill="#fff" stroke="#999" stroke-width="2.4"/>
<line x1="1404.2" y1="1622.5" x2="1423.2" y2="1622.5" stroke="#000" stroke-width="3.4" />
<text x="1441.60" y="1631" font-family="'Liberation Serif', 'Times New Roman', serif" font-size="29" fill="#111" stroke="#111" stroke-width="0.35" textLength="63.58" lengthAdjust="spacingAndGlyphs">+1SD</text>
<line x1="1404.2" y1="1656.8" x2="1411.7" y2="1656.8" stroke="#000" stroke-width="3.4" />
<line x1="1415.2" y1="1656.8" x2="1423.2" y2="1656.8" stroke="#000" stroke-width="3.4" />
<text x="1441.10" y="1662.8" font-family="'Liberation Serif', 'Times New Roman', serif" font-size="29" fill="#111" stroke="#111" stroke-width="0.35" textLength="60.10" lengthAdjust="spacingAndGlyphs">mean</text>
<line x1="1404.2" y1="1686.8" x2="1423.2" y2="1686.8" stroke="#777" stroke-width="2.2" stroke-dasharray="2.6 2.2"/>
<text x="1442.10" y="1694.1" font-family="'Liberation Serif', 'Times New Roman', serif" font-size="29" fill="#111" stroke="#111" stroke-width="0.35" textLength="56.08" lengthAdjust="spacingAndGlyphs">-1SD</text>
</g>
</svg>
</body></html>
